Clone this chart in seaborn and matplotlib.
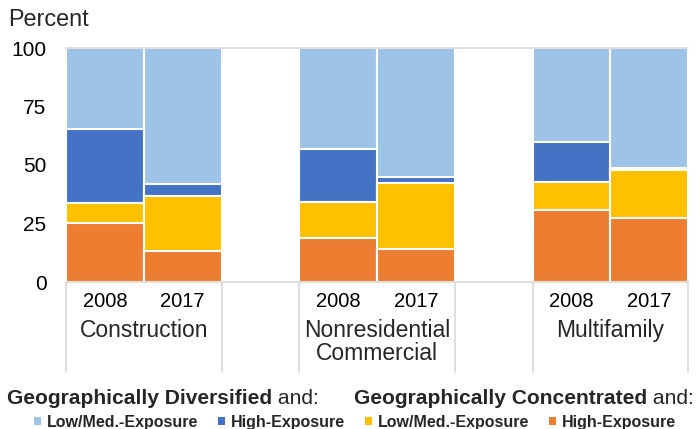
import numpy as np
import pandas as pd
import matplotlib
matplotlib.use("Agg")
import matplotlib.pyplot as plt
import matplotlib.transforms as mtransforms
from matplotlib.patches import Patch
import seaborn as sns

groups = ["Construction", "Nonresidential\nCommercial", "Multifamily"]
years = ["2008", "2017"]

# percent shares per bar: Construction 08/17, Nonres 08/17, Multifamily 08/17
conc_high = [25.2, 13.3, 19.0, 14.1, 30.7, 27.4]
conc_lowmed = [8.6, 23.4, 15.4, 28.0, 12.0, 20.4]
div_high = [31.5, 5.1, 22.5, 2.6, 17.2, 1.1]
div_lowmed = [34.7, 58.2, 43.1, 55.3, 40.1, 51.1]

series_labels = ["Low/Med.-Exposure", "High-Exposure", "Low/Med.-Exposure", "High-Exposure"]
series_colors = ["#9DC3E6", "#4472C4", "#FFC000", "#ED7D31"]
yticks = [0, 25, 50, 75, 100]

sns.set_theme(style="white")
plt.rcParams["font.family"] = ["Liberation Sans", "DejaVu Sans"]

# long table, one row per bar
slots, order = [], []
for i, g in enumerate(groups):
    for y in years:
        slots.append(f"{g}|{y}")
        order.append(f"{g}|{y}")
    if i < len(groups) - 1:
        order.append(f"gap{i}")
df = pd.DataFrame({"slot": slots})
df["c1"] = conc_high
df["c2"] = df["c1"] + conc_lowmed
df["c3"] = df["c2"] + div_high
df["c4"] = df["c3"] + div_lowmed

fig, ax = plt.subplots(figsize=(6.99, 4.29), dpi=100)
fig.subplots_adjust(left=66 / 699, right=688 / 699, top=1 - 48 / 429, bottom=1 - 282 / 429)

# draw cumulative layers from the top down
for col, c in zip(["c4", "c3", "c2", "c1"], series_colors):
    sns.barplot(data=df, x="slot", y=col, order=order, color=c, saturation=1,
                width=1.0, edgecolor="white", linewidth=1.5, errorbar=None, ax=ax)

ax.set_xlim(-0.5, len(order) - 0.5)
ax.set_ylim(0, 100)
ax.set_yticks(yticks)
ax.set_yticklabels([str(t) for t in yticks], fontsize=15)
ax.set_xlabel("")
ax.set_ylabel("")
ax.set_xticks(range(len(order)))
ax.set_xticklabels([s.split("|")[1] if "|" in s else "" for s in order], fontsize=14.5)
ax.tick_params(axis="both", length=0, colors="black")
ax.tick_params(axis="x", pad=7)
ax.tick_params(axis="y", pad=14)
for s in ["left", "right"]:
    ax.spines[s].set_visible(False)
for s in ["top", "bottom"]:
    ax.spines[s].set_color("#D9D9D9")
    ax.spines[s].set_linewidth(1.2)

# group labels and separators under the axis
trans = mtransforms.blended_transform_factory(ax.transData, ax.transAxes)
pos = 0
bounds = [-0.5]
for i, g in enumerate(groups):
    ax.text(pos + 0.5, -0.16, g, transform=trans, ha="center", va="top",
            fontsize=16.5, linespacing=0.95)
    bounds.append(pos + 1.5)
    pos += 2
    if i < len(groups) - 1:
        bounds.append(pos + 0.5)
        pos += 1
for b in bounds:
    ax.plot([b, b], [0, -0.385], transform=trans, color="#D9D9D9", lw=1.2, clip_on=False)

fig.text(8 / 699, 1 - 20 / 429, "Percent", fontsize=16.8, ha="left", va="center")

# legend titles: bold part then regular " and:"
fig.canvas.draw()
rend = fig.canvas.get_renderer()
for x0, word in [(7, "Geographically Diversified"), (354, "Geographically Concentrated")]:
    t = fig.text(x0 / 699, 1 - 398 / 429, word, fontsize=15.1, fontweight="bold",
                 ha="left", va="center")
    bb = t.get_window_extent(rend)
    fig.text(bb.x1 / fig.bbox.width, 1 - 398 / 429, " and:", fontsize=15.1,
             ha="left", va="center")

handles = [Patch(facecolor=c, edgecolor="none") for c in series_colors]
fig.legend(handles, series_labels, ncol=4, loc="center", bbox_to_anchor=(355 / 699, 1 - 422 / 429),
           frameon=False, handlelength=0.45, handleheight=0.45, handletextpad=0.4,
           columnspacing=1.2, prop={"size": 11.5, "weight": "bold"})

fig.savefig("out.png", dpi=100)
